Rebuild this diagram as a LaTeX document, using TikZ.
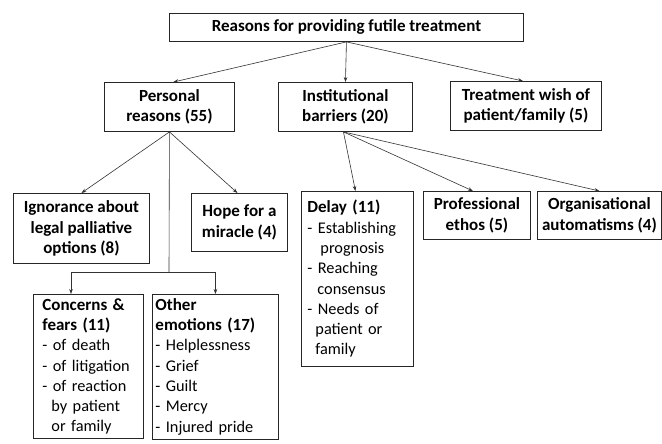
\documentclass[tikz,border=0pt]{standalone}
\usepackage{fontspec}
\setmainfont{Carlito}
\usetikzlibrary{arrows.meta,calc}
\newcommand{\hd}[1]{{\fontsize{17}{20.3}\selectfont\bfseries #1}}
\begin{document}
\begin{tikzpicture}[x=1pt,y=-1pt,
  box/.style={draw=black!85,line width=0.9pt,anchor=north west,align=center,inner sep=0pt,
    font=\fontsize{17}{20.5}\selectfont\bfseries},
  lbox/.style={draw=black!85,line width=0.9pt,anchor=north west,align=left,inner ysep=4pt,
    font=\fontsize{16.3}{20.3}\selectfont},
  conn/.style={draw=black!80,line width=0.6pt},
  arr/.style={conn,-{Stealth[length=5pt,width=3.6pt]}}]
\useasboundingbox (0,0) rectangle (662,444);
\clip (0,0) rectangle (662,444);

\node[box,minimum width=354pt,minimum height=28pt] (top) at (169,13) {Reasons for providing futile treatment};

\node[box,minimum width=130pt,minimum height=49pt] (pers) at (104,82) {Personal\\reasons (55)};
\node[box,minimum width=134pt,minimum height=49pt] (inst) at (278,82) {Institutional\\barriers (20)};
\node[box,minimum width=151pt,minimum height=49pt] (wish) at (450,81) {Treatment wish of\\patient/family (5)};

\node[box,minimum width=136pt,minimum height=70pt] (ign) at (13,193) {Ignorance about\\legal palliative\\options (8)};
\node[box,minimum width=96pt,minimum height=58pt] (hope) at (191,193) {Hope for a\\miracle (4)};

\node[lbox,inner xsep=6pt,text width=100pt,minimum height=175pt] (delay) at (301,191)
  {\hd{Delay (11)}\\
   - Establishing\\
   \hspace*{13pt}prognosis\\
   - Reaching\\
   \hspace*{10pt}consensus\\
   - Needs of\\
   \hspace*{8pt}patient or\\
   \hspace*{8pt}family};
\node[box,minimum width=107pt,minimum height=48pt] (prof) at (423,191) {Professional\\ethos (5)};
\node[box,minimum width=124pt,minimum height=48pt] (org) at (537,191) {Organisational\\automatisms (4)};

\node[lbox,inner xsep=9pt,text width=92pt] (cf) at (33,294)
  {\hd{Concerns \&}\\
   \hd{fears (11)}\\
   - of death\\
   - of litigation\\
   - of reaction\\
   \hspace*{9pt}by patient\\
   \hspace*{9pt}or family\\[4pt]};
\node[lbox,inner xsep=3pt,text width=120pt] (oe) at (152,294)
  {\hd{Other}\\
   \hd{emotions (17)}\\
   - Helplessness\\
   - Grief\\
   - Guilt\\
   - Mercy\\
   - Injured pride\\[4pt]};

% connectors
\draw[arr] (top.south) -- ($(pers.north)+(4,0)$);
\draw[arr] (top.south) -- (inst.north);
\draw[arr] (top.south) -- ($(wish.north)+(-3,0)$);

\draw[arr] (pers.south) -- (ign.north);
\draw[arr] (pers.south) -- ($(hope.north)+(-2,0)$);
\coordinate (j) at (169,272);
\draw[conn] (pers.south) -- (j);
\draw[arr] (j) -| ($(cf.north west)+(38,0)$);
\draw[arr] (j) -| (oe.north);

\draw[arr] ($(inst.south)+(-2,0)$) -- ($(delay.north)+(-2,0)$);
\draw[arr] ($(inst.south)+(-2,0)$) -- ($(prof.north)+(-4,0)$);
\draw[arr] ($(inst.south)+(-2,0)$) -- (org.north);
\end{tikzpicture}
\end{document}
